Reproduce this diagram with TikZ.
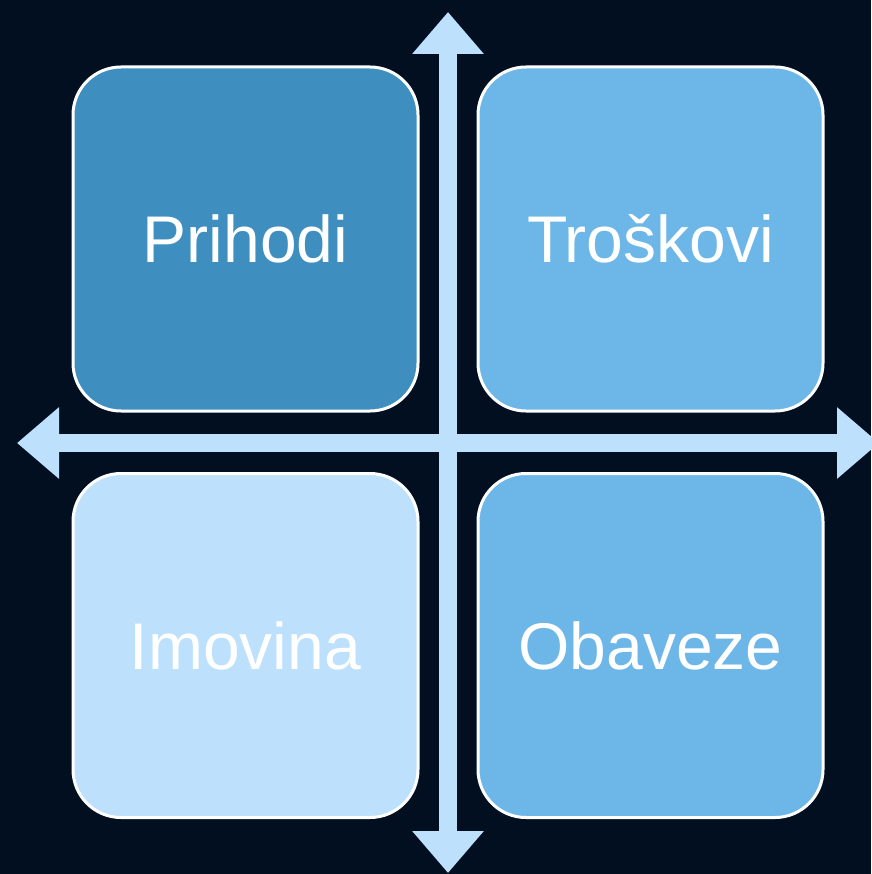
\documentclass[tikz,border=0pt]{standalone}
\usepackage{fontspec}
\setmainfont{Liberation Sans}
\usetikzlibrary{arrows.meta}

\definecolor{nightbg}{HTML}{020F21}
\definecolor{axisblue}{HTML}{BDE1FD}
\definecolor{deepblue}{HTML}{3E8FBF}
\definecolor{midblue}{HTML}{6DB7E8}
\definecolor{paleblue}{HTML}{BDE1FD}

\begin{document}
\begin{tikzpicture}[
  x=1pt, y=-1pt,
  every node/.style={font=\fontsize{66}{70}\selectfont, text=white},
  quad/.style={rectangle, draw=white, line width=3pt, rounded corners=48pt,
    minimum width=345pt, minimum height=344pt, inner sep=0pt},
  axis/.style={axisblue, line width=18pt,
    {Triangle[width=69pt,length=42pt]}-{Triangle[width=69pt,length=42pt]}},
]

% background
\useasboundingbox (0,0) rectangle (871,874);
\fill[nightbg] (0,0) rectangle (871,874);

% axes
\coordinate (north) at (448,12);
\coordinate (south) at (448,873);
\coordinate (west) at (17,443);
\coordinate (east) at (879,443);
\draw[axis] (south) -- (north);
\draw[axis] (west) -- (east);

% quadrants
\node[quad, fill=deepblue] (prihodi) at (245.5,239) {Prihodi};
\node[quad, fill=midblue] (troskovi) at (650.5,239) {Troškovi};
\node[quad, fill=paleblue] (imovina) at (245.5,645.5) {Imovina};
\node[quad, fill=midblue] (obaveze) at (650.5,645.5) {Obaveze};

\end{tikzpicture}
\end{document}
